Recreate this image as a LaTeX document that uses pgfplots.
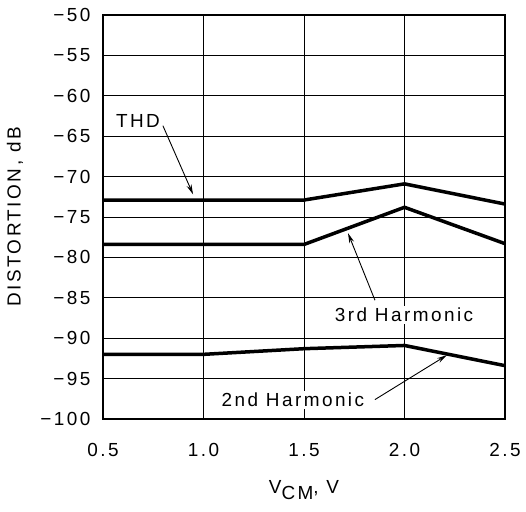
\documentclass[border=0pt]{standalone}
\usepackage{fontspec}
\setmainfont{Liberation Sans}[LetterSpace=13]
\usepackage{pgfplots}
\pgfplotsset{compat=1.18}
\usetikzlibrary{arrows.meta}

\begin{document}
\fontsize{19}{22}\selectfont
\begin{tikzpicture}
\begin{axis}[
    name=ax,
    scale only axis,
    width=402bp, height=404bp,
    xmin=0.5, xmax=2.5, ymin=-100, ymax=-50,
    xtick={0.5,1.0,1.5,2.0,2.5},
    xticklabels={0.5,1.0,1.5,2.0,2.5},
    ytick={-100,-95,...,-50},
    yticklabels={−100,−95,−90,−85,−80,−75,−70,−65,−60,−55,−50},
    xticklabel style={yshift=-18bp},
    major tick length=0pt,
    yticklabel style={xshift=-6bp},
    grid=major,
    major grid style={black, line width=0.8bp},
    axis line style={black, line width=1.3bp},
    ylabel={DISTORTION, dB},
    xlabel={V\raisebox{-0.55ex}{CM}, V},
    ylabel style={at={(axis description cs:-0.219,0.5)}, anchor=center},
    xlabel style={at={(axis description cs:0.5,-0.176)}, anchor=center},
    clip=false,
]
% THD
\addplot[black, line width=3.5bp, mark=none] coordinates {(0.5,-72.9) (1.0,-72.9) (1.5,-72.9) (2.0,-70.9) (2.5,-73.4)};
% 3rd harmonic
\addplot[black, line width=3.5bp, mark=none] coordinates {(0.5,-78.4) (1.0,-78.4) (1.5,-78.4) (2.0,-73.8) (2.5,-78.3)};
% 2nd harmonic
\addplot[black, line width=3.5bp, mark=none] coordinates {(0.5,-92.0) (1.0,-92.0) (1.5,-91.3) (2.0,-90.9) (2.5,-93.4)};

\node at (axis cs:0.674,-63.1) {THD};
\draw[line width=0.9bp, -{Stealth[length=10bp,width=5bp]}] (axis cs:0.798,-63.7) -- (axis cs:0.948,-72.2);

\node[fill=white, inner sep=2bp] at (axis cs:1.998,-87.1) {3rd Harmonic};
\draw[line width=0.9bp, -{Stealth[length=10bp,width=5bp]}] (axis cs:1.853,-85.3) -- (axis cs:1.719,-77.0);

\node[fill=white, inner sep=2bp] at (axis cs:1.445,-97.6) {2nd Harmonic};
\draw[line width=0.9bp, -{Stealth[length=10bp,width=5bp]}] (axis cs:1.853,-97.6) -- (axis cs:2.211,-92.1);
\end{axis}
\pgfresetboundingbox
\path ([shift={(-103bp,-93bp)}]ax.south west) rectangle ([shift={(21bp,15bp)}]ax.north east);
\end{tikzpicture}
\end{document}
